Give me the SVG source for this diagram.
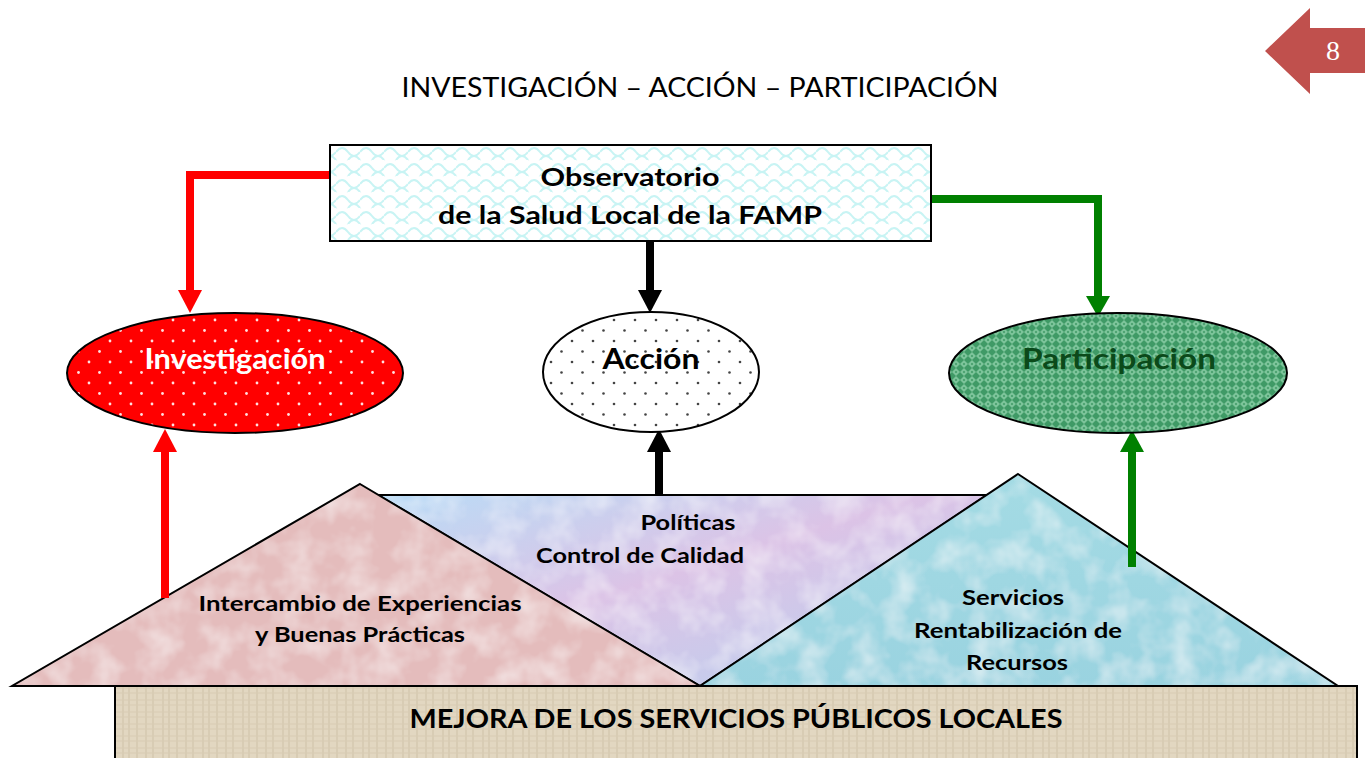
<svg xmlns="http://www.w3.org/2000/svg" width="1365" height="758" viewBox="0 0 1365 758">
<style>
.t{font-family:Lato,"Open Sans","Liberation Sans",sans-serif;font-weight:bold;fill:#000;text-anchor:middle}
.ol{stroke:#000;stroke-width:2}
.red{stroke:#ff0000;stroke-width:8;fill:none}
.blk{stroke:#000;stroke-width:8;fill:none}
.grn{stroke:#008000;stroke-width:8;fill:none}
</style>
<defs>
<pattern id="scales" width="24" height="16" patternUnits="userSpaceOnUse">
<rect width="24" height="16" fill="#ffffff"/>
<path d="M0,8 Q6,0 12,8 T24,8 M-12,16 Q-6,8 0,16 M12,16 Q18,8 24,16 M0,0 Q6,-8 12,0" fill="none" stroke="#c8f4f4" stroke-width="2"/>
</pattern>
<pattern id="reddots" width="21" height="21" patternUnits="userSpaceOnUse">
<rect width="21" height="21" fill="#ff0000"/>
<circle cx="5" cy="5" r="1.4" fill="#ffe0e0"/>
<circle cx="15.5" cy="15.5" r="1.4" fill="#ffe0e0"/>
</pattern>
<pattern id="blkdots" width="21" height="21" patternUnits="userSpaceOnUse">
<rect width="21" height="21" fill="#ffffff"/>
<circle cx="5" cy="5" r="1.3" fill="#444"/>
<circle cx="15.5" cy="15.5" r="1.3" fill="#444"/>
</pattern>
<pattern id="grnchk" width="8" height="8" patternUnits="userSpaceOnUse">
<rect width="8" height="8" fill="#3f9a66"/>
<path d="M4,0 L8,4 L4,8 L0,4 Z" fill="#7cc49a"/>
<circle cx="4" cy="4" r="1" fill="#3f9a66"/>
</pattern>
<pattern id="burlap" width="40" height="12" patternUnits="userSpaceOnUse">
<rect width="40" height="12" fill="#e2d7c1"/>
<path d="M3,0V12M9,0V12M17,0V12M26,0V12M33,0V12" stroke="#cfc2a8" stroke-width="1"/>
<path d="M0,4H40M0,9H40" stroke="#d8ccb4" stroke-width="1"/>
</pattern>
<filter id="mottle" x="0" y="0" width="100%" height="100%">
<feTurbulence type="fractalNoise" baseFrequency="0.035" numOctaves="3" seed="4" result="n"/>
<feColorMatrix in="n" type="matrix" values="0 0 0 0 1  0 0 0 0 1  0 0 0 0 1  0 0 0 -0.9 0.55" result="w"/>
<feComposite in="w" in2="SourceGraphic" operator="in" result="wc"/>
<feMerge><feMergeNode in="SourceGraphic"/><feMergeNode in="wc"/></feMerge>
</filter>
<linearGradient id="midg" x1="0" y1="0" x2="1" y2="1">
<stop offset="0" stop-color="#b9dcf6"/>
<stop offset="0.45" stop-color="#dcc3e6"/>
<stop offset="1" stop-color="#b7d2f0"/>
</linearGradient>
<linearGradient id="rightg" x1="0" y1="0" x2="0" y2="1">
<stop offset="0" stop-color="#a4dbe4"/>
<stop offset="1" stop-color="#9ad3e0"/>
</linearGradient>
</defs>

<rect width="1365" height="758" fill="#ffffff"/>

<g id="page-number">
<polygon points="1265,51 1310,8 1310,28 1365,28 1365,73 1310,73 1310,94" fill="#c0504d"/>
<text x="1333" y="60" font-family="Liberation Serif,serif" font-size="28" fill="#ffffff" text-anchor="middle">8</text>
</g>

<g id="title">
<text x="700" y="97" font-family="Lato,'Open Sans',sans-serif" font-size="27" fill="#000" text-anchor="middle" textLength="597" lengthAdjust="spacingAndGlyphs">INVESTIGACIÓN – ACCIÓN – PARTICIPACIÓN</text>
</g>

<g id="base-shapes">
<g id="politicas">
<polygon points="378,495 987,495 700,686" fill="url(#midg)" filter="url(#mottle)"/>
<polygon points="378,495 987,495 700,686" fill="none" class="ol"/>
<text class="t" x="688" y="530" font-size="21" textLength="95" lengthAdjust="spacingAndGlyphs">Políticas</text>
<text class="t" x="640" y="563" font-size="21" textLength="208" lengthAdjust="spacingAndGlyphs">Control de Calidad</text>
</g>
<g id="intercambio">
<polygon points="360,484 700,686 12,686" fill="#e4bcbc" filter="url(#mottle)"/>
<polygon points="360,484 700,686 12,686" fill="none" class="ol"/>
<text class="t" x="360" y="611" font-size="21" textLength="323" lengthAdjust="spacingAndGlyphs">Intercambio de Experiencias</text>
<text class="t" x="360" y="642" font-size="21" textLength="210" lengthAdjust="spacingAndGlyphs">y Buenas Prácticas</text>
</g>
<g id="servicios">
<polygon points="1018,474 1338,686 700,686" fill="url(#rightg)" filter="url(#mottle)"/>
<polygon points="1018,474 1338,686 700,686" fill="none" class="ol"/>
<text class="t" x="1013" y="605" font-size="21" textLength="102" lengthAdjust="spacingAndGlyphs">Servicios</text>
<text class="t" x="1018" y="638" font-size="21" textLength="208" lengthAdjust="spacingAndGlyphs">Rentabilización de</text>
<text class="t" x="1017" y="670" font-size="21" textLength="102" lengthAdjust="spacingAndGlyphs">Recursos</text>
</g>
<g id="mejora">
<rect x="115" y="686" width="1242" height="80" fill="url(#burlap)" class="ol"/>
<text class="t" x="736" y="728" font-size="26" textLength="653" lengthAdjust="spacingAndGlyphs">MEJORA DE LOS SERVICIOS PÚBLICOS LOCALES</text>
</g>
</g>

<g id="connectors">
<path class="red" d="M330,175 H190 V292"/>
<polygon points="178,290 202,290 190,313" fill="#ff0000"/>
<path class="red" d="M165,598 V450"/>
<polygon points="153,452 177,452 165,429" fill="#ff0000"/>
<path class="blk" d="M650,241 V292"/>
<polygon points="638,290 662,290 650,313" fill="#000"/>
<path class="blk" d="M659,495 V450"/>
<polygon points="647,452 671,452 659,429" fill="#000"/>
<path class="grn" d="M931,199 H1098 V296"/>
<polygon points="1086,296 1110,296 1098,317" fill="#008000"/>
<path class="grn" d="M1132,567 V450"/>
<polygon points="1120,452 1144,452 1132,430" fill="#008000"/>
</g>

<g id="observatorio">
<rect x="330" y="145" width="601" height="96" fill="url(#scales)" class="ol"/>
<text class="t" x="630" y="186" font-size="25" textLength="179" lengthAdjust="spacingAndGlyphs">Observatorio</text>
<text class="t" x="630" y="224" font-size="25" textLength="384" lengthAdjust="spacingAndGlyphs">de la Salud Local de la FAMP</text>
</g>

<g id="investigacion">
<ellipse cx="235" cy="373" rx="168" ry="60" fill="url(#reddots)" class="ol"/>
<text class="t" x="235" y="369" font-size="29" style="fill:#fff" textLength="181" lengthAdjust="spacingAndGlyphs">Investigación</text>
</g>

<g id="accion">
<ellipse cx="651" cy="372" rx="108" ry="60" fill="url(#blkdots)" class="ol"/>
<text class="t" x="651" y="369" font-size="29" textLength="97" lengthAdjust="spacingAndGlyphs">Acción</text>
</g>

<g id="participacion">
<ellipse cx="1118" cy="373" rx="169" ry="60" fill="url(#grnchk)" class="ol"/>
<text class="t" x="1119" y="369" font-size="29" style="fill:#0b4a1a" textLength="194" lengthAdjust="spacingAndGlyphs">Participación</text>
</g>
</svg>
